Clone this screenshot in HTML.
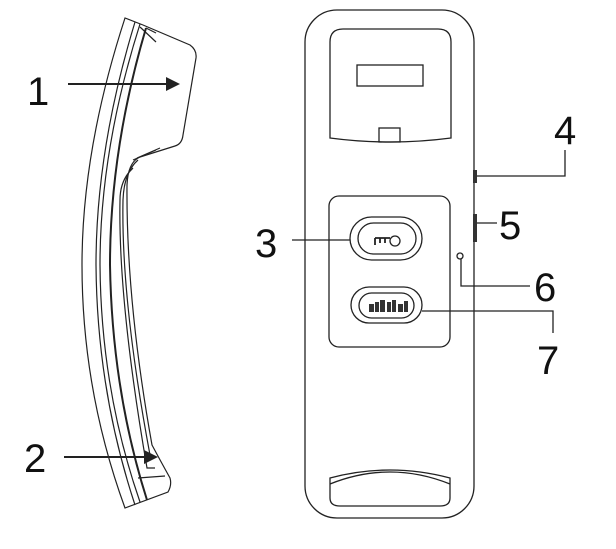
<!DOCTYPE html>
<html><head><meta charset="utf-8"><style>
html,body{margin:0;padding:0;background:#fff}
svg{display:block}
text{font-family:"Liberation Sans",sans-serif;font-size:40px;fill:#111}
</style></head><body>
<svg width="616" height="549" viewBox="0 0 616 549" xmlns="http://www.w3.org/2000/svg">
<g fill="none" stroke="#222" stroke-width="1.2">
<!-- handset -->
<path d="M125,18 Q82,150 82,265 Q82,390 125,508 L168,492 Q172,485 170,478 Q160,460 152,445 Q126,300 127,185 Q128,162 140,157 L175,146 Q182,144 183,135 L196,58 Q197,50 190,45 L143,25 Z"/>
<path d="M135,22 Q96,150 96,265 Q97,390 135,505"/>
<path d="M140,24 Q100,150 100,265 Q101,390 140,502"/>
<path d="M146,28 Q110,150 110,265 Q112,390 147,500" stroke-width="2"/>
<path d="M140,27 L156,42 M146,28 L156,33"/>
<path d="M133,168 Q120,180 120,200 Q118,300 147,468 L155,468"/>
<path d="M138,160 Q124,172 123,200 Q121,300 150,455"/>
<path d="M156,150 L133,160 M160,148 L137,158 M138,478 L165,476"/>
<!-- arrows -->
<path d="M68,84 L168,84 M64,457 L146,457" stroke-width="2"/>
</g>
<path d="M180,84 L166,77 L166,91 Z M158,457 L144,450 L144,464 Z" fill="#222"/>
<text x="27" y="105">1</text>
<text x="24" y="472">2</text>

<!-- base unit -->
<g fill="none" stroke="#222" stroke-width="1.3">
<rect x="305" y="10" width="169" height="508" rx="32"/>
<path d="M330,42 Q330,29 343,29 L438,29 Q451,29 451,42 L451,138 Q390,146 330,138 Z"/>
<rect x="357" y="65" width="66" height="21"/>
<rect x="379" y="128" width="21" height="14"/>
<rect x="329" y="196" width="121" height="151" rx="10"/>
<rect x="350" y="217" width="72" height="43" rx="21.5"/>
<rect x="358" y="223" width="58" height="31" rx="15.5"/>
<rect x="351" y="287" width="71" height="36" rx="18"/>
<rect x="359" y="293" width="55" height="25" rx="12.5"/>
<circle cx="395" cy="241" r="5"/>
<path d="M375,238 L390,238 M375,238 L375,245 M380,238 L380,243 M385,238 L385,243" stroke-width="1.8"/>
<path d="M330,484 Q390,460 450,484 M330,478 Q390,462 450,478 L450,498 Q450,506 440,506 L340,506 Q330,506 330,498 Z"/>
<circle cx="460" cy="256" r="3"/>
<path d="M292,240 L350,240 M476,176 L565,176 L565,150 M477,223 L497,223 M461,259 L461,286 L530,286 M422,311 L553,311 L553,333"/>
</g>
<g fill="#333">
<rect x="369" y="304" width="5" height="8"/><rect x="375" y="302" width="4" height="10"/><rect x="380" y="300" width="5" height="12"/><rect x="387" y="302" width="4" height="10"/><rect x="392" y="300" width="4" height="12"/><rect x="398" y="304" width="5" height="8"/><rect x="404" y="301" width="4" height="11"/>
<rect x="473" y="170" width="4" height="13"/>
<rect x="473" y="214" width="4" height="28"/>
</g>
<text x="255" y="257">3</text>
<text x="554" y="144">4</text>
<text x="499" y="239">5</text>
<text x="534" y="301">6</text>
<text x="537" y="374">7</text>
</svg>
</body></html>
